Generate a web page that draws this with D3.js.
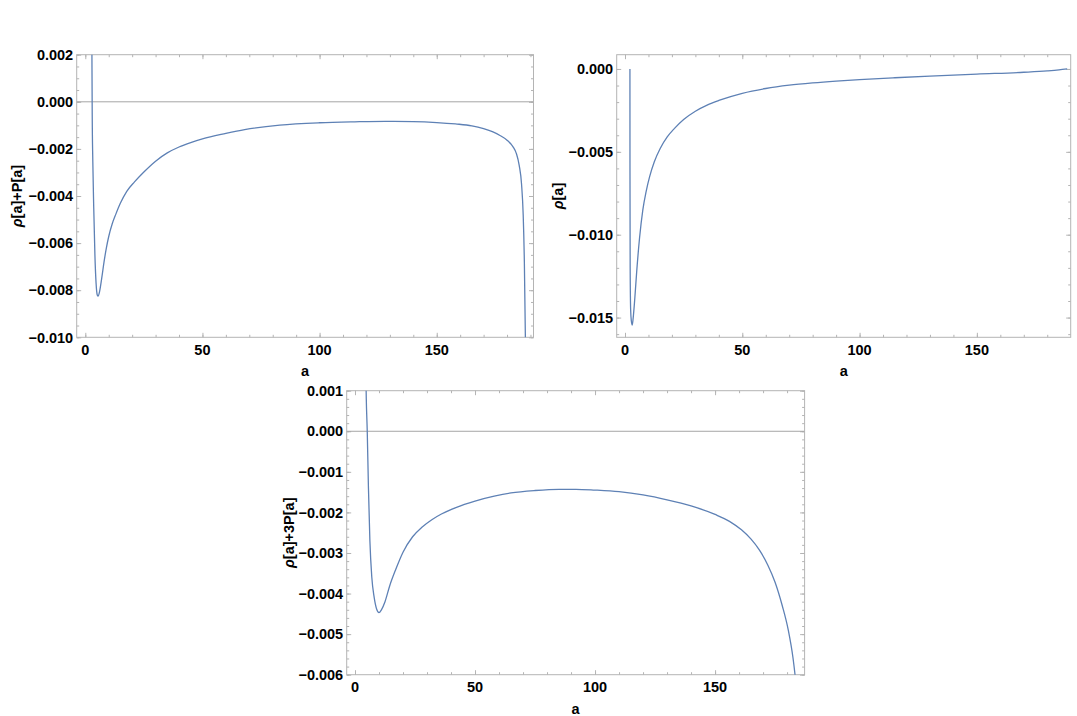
<!DOCTYPE html>
<html>
<head>
<meta charset="utf-8">
<script src="https://cdn.jsdelivr.net/npm/d3@7"></script>
<style>
  body { margin: 0; background: #fff; }
  svg { display: block; }
  .tickLabel { font-family: "Liberation Sans", Arial, sans-serif; font-weight: bold; font-size: 14.5px; fill: #000; }
  .axisTitle { font-family: "Liberation Sans", Arial, sans-serif; font-weight: bold; font-size: 14.5px; fill: #000; }
</style>
</head>
<body>
<div id="chart"></div>
<script>
// rho[a]+P[a]
const aRhoP = [2.75, 2.85, 2.95, 3.2, 3.6, 4.1, 4.6, 5.1, 5.5, 6.0, 7, 8, 9, 10, 11.5, 13, 15, 17.7, 21, 25, 30, 35, 40, 45, 50, 60, 68, 83, 100, 115, 128, 140, 150, 158, 165, 170, 174, 177, 180, 182.5, 184, 185.2, 186.2, 186.9, 187.4, 187.9];
const vRhoP = [0.004, 0.0015, -0.0005, -0.0025, -0.0045, -0.0065, -0.0077, -0.0082, -0.00825, -0.0081, -0.0075, -0.0068, -0.0062, -0.00572, -0.00518, -0.00478, -0.0043, -0.0038, -0.0034, -0.00298, -0.00252, -0.00217, -0.00192, -0.00173, -0.00157, -0.00134, -0.00118, -0.00099, -0.00089, -0.00085, -0.00083, -0.00084, -0.00088, -0.00094, -0.00102, -0.00114, -0.00128, -0.00143, -0.00163, -0.0019, -0.0022, -0.0027, -0.0035, -0.0048, -0.0068, -0.0105];

// rho[a]
const aRho = [2.1, 2.12, 2.2, 2.4, 2.7, 3.1, 3.5, 4.2, 5, 6.2, 7.6, 9, 10.5, 12.5, 15, 18, 21, 25, 30, 35, 40, 50, 60, 70, 80, 90, 100, 115, 130, 150, 170, 180, 185, 188.5];
const vRho = [0, -0.006, -0.012, -0.0145, -0.0152, -0.01545, -0.0150, -0.0138, -0.0122, -0.0102, -0.0085, -0.0074, -0.0065, -0.0056, -0.0048, -0.0041, -0.0036, -0.00305, -0.00255, -0.00218, -0.0019, -0.00147, -0.00118, -0.00098, -0.00084, -0.00073, -0.00064, -0.00053, -0.00043, -0.00031, -0.0002, -0.00012, -0.00006, 0];

// rho[a]+3P[a]
const aRho3P = [4.5, 4.7, 5.1, 5.6, 6.2, 7, 8, 9, 10, 11, 12.5, 14.5, 17, 20, 24, 28, 32, 36, 42, 50, 58, 65, 75, 85, 92, 100, 110, 120, 130, 140, 150, 156, 161, 165, 168.5, 172, 175, 178, 180.5, 182.5, 183.5, 184.5];
const vRho3P = [0.0015, 0.0008, 0, -0.0014, -0.0027, -0.0036, -0.0041, -0.00438, -0.00447, -0.0044, -0.0042, -0.0038, -0.0034, -0.00298, -0.0026, -0.00236, -0.00218, -0.00204, -0.00188, -0.00172, -0.0016, -0.00152, -0.00146, -0.00143, -0.00143, -0.00145, -0.00149, -0.00157, -0.00169, -0.00184, -0.00205, -0.00222, -0.00243, -0.00266, -0.00293, -0.0033, -0.00372, -0.0043, -0.0049, -0.0056, -0.0061, -0.0067];

const xTicks = [0, 50, 100, 150];
const yTicksRhoP = [0.002, 0, -0.002, -0.004, -0.006, -0.008, -0.010];
const yTicksRho = [0, -0.005, -0.010, -0.015];
const yTicksRho3P = [0.001, 0, -0.001, -0.002, -0.003, -0.004, -0.005, -0.006];

const lineColor = "#5e81b5";
const frameColor = "#b4b4b4";

const panels = [
  { id: "p1", a: aRhoP, v: vRhoP, left: 76.7, right: 533.5, top: 54.7, bottom: 337.3,
    xDomain: [-3.67, 191.3], yDomain: [-0.010, 0.002], yTicks: yTicksRhoP, yMinorStep: 0.0005,
    title: "+P[a]", titleX: 17, zeroLine: true },
  { id: "p2", a: aRho, v: vRho, left: 616.7, right: 1070.7, top: 54.7, bottom: 337.3,
    xDomain: [-3.54, 190], yDomain: [-0.01619, 0.00086], yTicks: yTicksRho, yMinorStep: 0.001,
    title: "", titleX: 558, zeroLine: false },
  { id: "p3", a: aRho3P, v: vRho3P, left: 346.7, right: 804.6, top: 390.7, bottom: 674.7,
    xDomain: [-3.46, 187.3], yDomain: [-0.006, 0.001], yTicks: yTicksRho3P, yMinorStep: 0.0002,
    title: "+3P[a]", titleX: 289, zeroLine: true }
];

const svg = d3.select("#chart").append("svg")
  .attr("width", 1077)
  .attr("height", 716);

const drawPanel = (p) => {
  const x = d3.scaleLinear().domain(p.xDomain).range([p.left, p.right]);
  const y = d3.scaleLinear().domain(p.yDomain).range([p.bottom, p.top]);

  const g = svg.append("g");

  g.append("clipPath").attr("id", "clip-" + p.id)
    .append("rect")
    .attr("x", p.left).attr("y", p.top)
    .attr("width", p.right - p.left).attr("height", p.bottom - p.top);

  const xMinor = d3.range(0, p.xDomain[1], 10);
  const yMinor = d3.range(Math.ceil(p.yDomain[0] / p.yMinorStep - 1e-6), Math.floor(p.yDomain[1] / p.yMinorStep + 1e-6) + 1)
    .map((k) => k * p.yMinorStep);

  // inward frame ticks on all four sides
  const ticks = [
    [d3.axisBottom(x).tickValues(xMinor).tickSize(-2.5), `translate(0,${p.bottom})`],
    [d3.axisBottom(x).tickValues(xTicks).tickSize(-4.5), `translate(0,${p.bottom})`],
    [d3.axisTop(x).tickValues(xMinor).tickSize(-2.5), `translate(0,${p.top})`],
    [d3.axisTop(x).tickValues(xTicks).tickSize(-4.5), `translate(0,${p.top})`],
    [d3.axisLeft(y).tickValues(yMinor).tickSize(-2.5), `translate(${p.left},0)`],
    [d3.axisLeft(y).tickValues(p.yTicks).tickSize(-4.5), `translate(${p.left},0)`],
    [d3.axisRight(y).tickValues(yMinor).tickSize(-2.5), `translate(${p.right},0)`],
    [d3.axisRight(y).tickValues(p.yTicks).tickSize(-4.5), `translate(${p.right},0)`]
  ];
  ticks.forEach(([axis, tr]) => {
    const ag = g.append("g").attr("transform", tr).call(axis.tickFormat(""));
    ag.select(".domain").remove();
    ag.selectAll("line").attr("stroke", frameColor).attr("stroke-width", 1);
  });

  if (p.zeroLine) {
    g.append("line")
      .attr("x1", p.left).attr("x2", p.right)
      .attr("y1", y(0)).attr("y2", y(0))
      .attr("stroke", "#a6a6a6")
      .attr("stroke-width", 1);
  }

  g.append("rect")
    .attr("x", p.left).attr("y", p.top)
    .attr("width", p.right - p.left).attr("height", p.bottom - p.top)
    .attr("fill", "none")
    .attr("stroke", frameColor)
    .attr("stroke-width", 1);

  g.selectAll(".xLabel").data(xTicks).enter().append("text")
    .attr("class", "tickLabel")
    .attr("x", (d) => x(d))
    .attr("y", p.bottom + 17.5)
    .attr("text-anchor", "middle")
    .text(d3.format("d"));

  g.selectAll(".yLabel").data(p.yTicks).enter().append("text")
    .attr("class", "tickLabel")
    .attr("x", p.left - 3.5)
    .attr("y", (d) => y(d))
    .attr("dy", "0.36em")
    .attr("text-anchor", "end")
    .text(d3.format(".3f"));

  g.append("text")
    .attr("class", "axisTitle")
    .attr("x", (p.left + p.right) / 2)
    .attr("y", p.bottom + 39)
    .attr("text-anchor", "middle")
    .text("a");

  const title = g.append("text")
    .attr("class", "axisTitle")
    .attr("text-anchor", "middle")
    .attr("transform", `translate(${p.titleX},${(p.top + p.bottom) / 2}) rotate(-90)`)
    .attr("dy", "0.36em");
  title.append("tspan").attr("font-style", "italic").text("ρ");
  title.append("tspan").text("[a]" + p.title);

  const line = d3.line()
    .x((d, i) => x(p.a[i]))
    .y((d) => y(d))
    .curve(d3.curveMonotoneX);

  g.append("path")
    .attr("d", line(p.v))
    .attr("clip-path", `url(#clip-${p.id})`)
    .attr("fill", "none")
    .attr("stroke", lineColor)
    .attr("stroke-width", 1.3);
};

panels.forEach(drawPanel);
</script>
</body>
</html>
